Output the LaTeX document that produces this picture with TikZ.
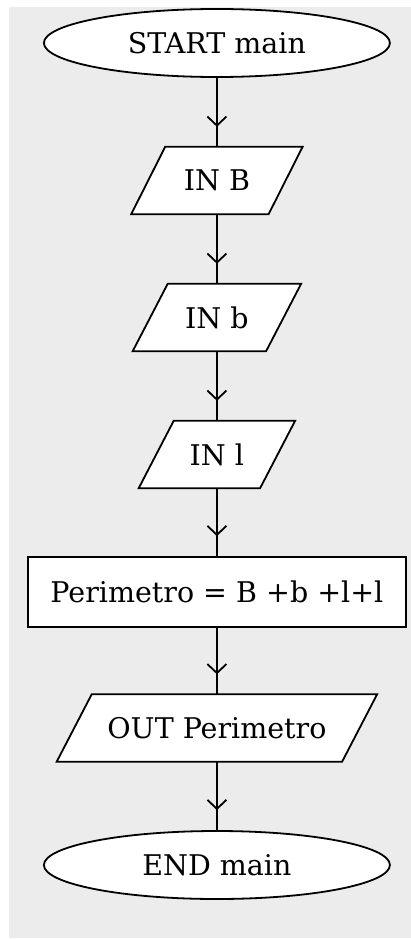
\documentclass[tikz,border=0pt]{standalone}
\usepackage{fontspec}
\setmainfont{DejaVu Serif}
\usetikzlibrary{shapes.geometric,arrows.meta,decorations.markings,backgrounds,calc}
\definecolor{bggray}{RGB}{236,236,236}
\begin{document}
\begin{tikzpicture}[x=1pt,y=-1pt,
  every node/.style={font=\fontsize{28.5}{34}\selectfont, inner sep=0pt},
  thick line/.style={line width=1.8pt},
  term/.style={ellipse, draw, thick line, fill=white, minimum width=346pt, minimum height=68pt},
  procbox/.style={rectangle, draw, thick line, fill=white, minimum width=378pt, minimum height=70pt},
  io/.style={rectangle, draw=none, minimum height=67pt},
  flow/.style={thick line, postaction={decorate}, decoration={markings, mark=at position -20pt with {\arrow[line width=1.8pt]{Straight Barb[length=9pt,width=19pt]}}}}]
\useasboundingbox (0,0) rectangle (411,939);
\node[term] (start) at (216.9,43) {START main};
\node[io, minimum width=137pt] (inB) at (216.9,180.5) {IN B};
\node[io, minimum width=133pt] (inb) at (216.9,317.5) {IN b};
\node[io, minimum width=121pt] (inl) at (216.9,454.5) {IN l};
\node[procbox] (calc) at (216.9,592) {Perimetro = B +b +l+l};
\node[io, minimum width=285pt] (out) at (216.9,728) {OUT Perimetro};
\node[term] (end) at (216.9,865) {END main};
\begin{scope}[on background layer]
  \fill[bggray] (9,7) rectangle (411,938);
  \foreach \n/\s in {inB/34,inb/35,inl/35,out/35}{
    \draw[thick line, line join=miter, fill=white] ($(\n.north west)+(\s/2,0)$) -- ($(\n.north east)+(\s/2,0)$)
      -- ($(\n.south east)+(-\s/2,0)$) -- ($(\n.south west)+(-\s/2,0)$) -- cycle;
  }
\end{scope}
\draw[flow] (start) -- (inB);
\draw[flow] (inB) -- (inb);
\draw[flow] (inb) -- (inl);
\draw[flow] (inl) -- (calc);
\draw[flow] (calc) -- (out);
\draw[flow] (out) -- (end);
\end{tikzpicture}
\end{document}
